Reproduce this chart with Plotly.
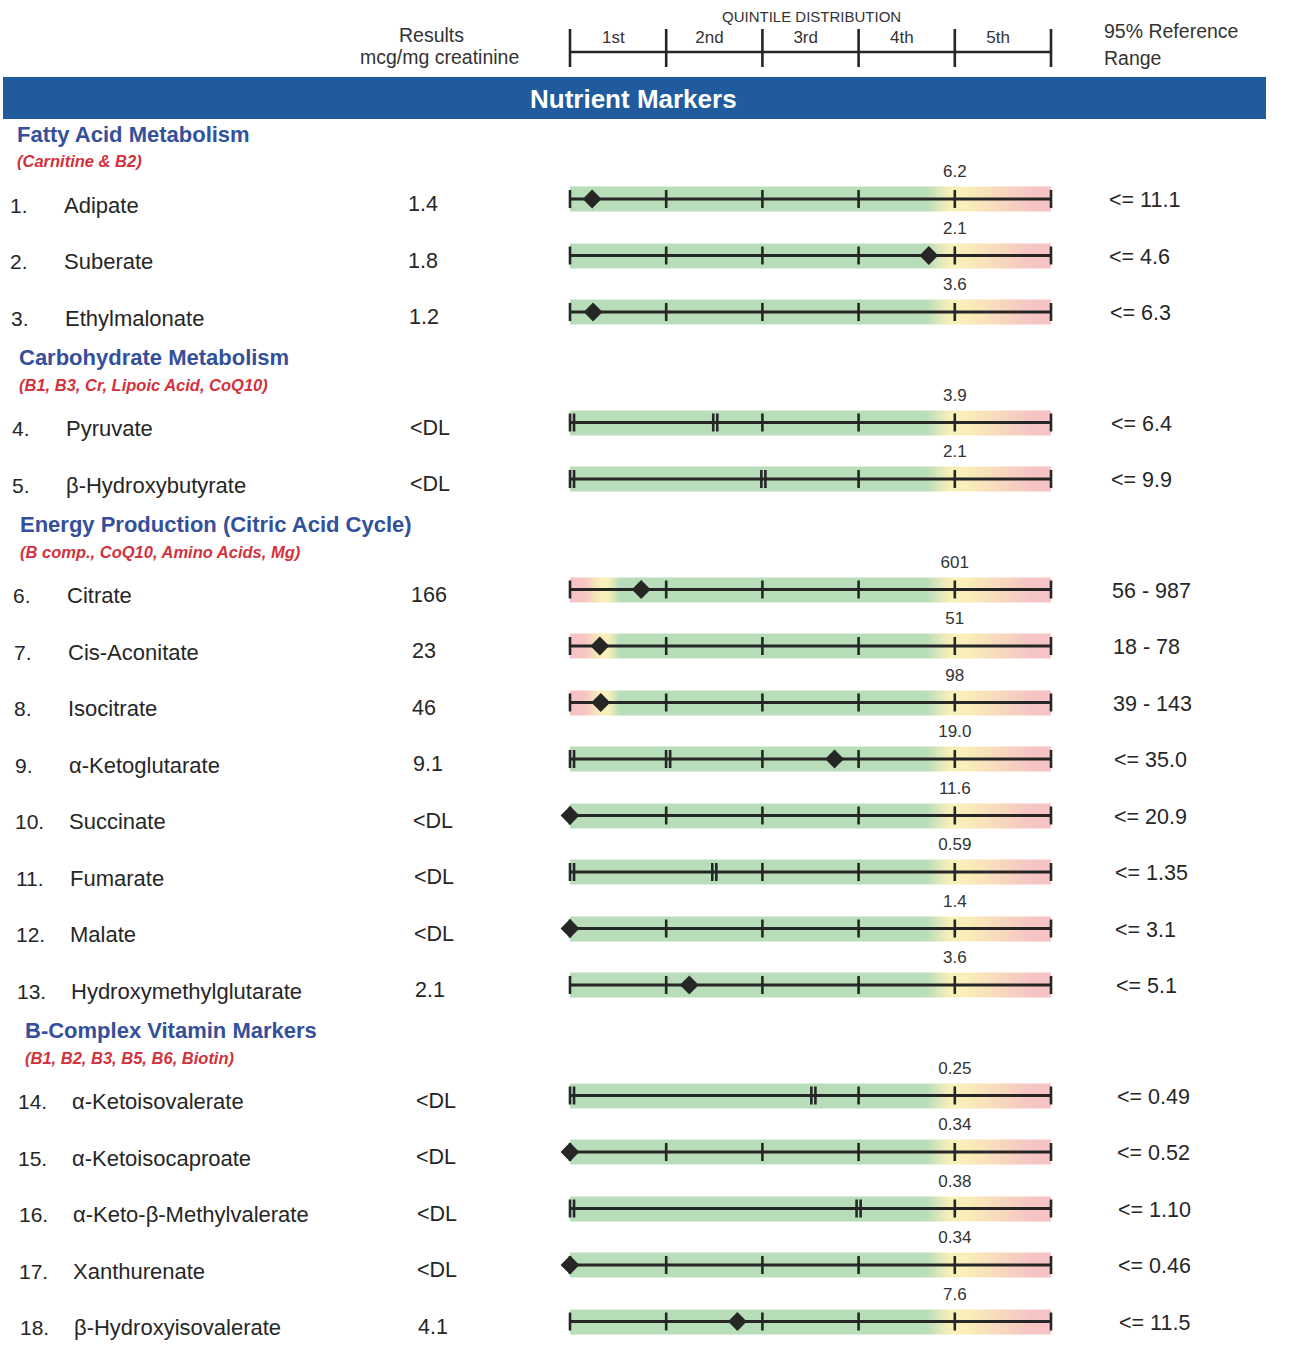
import numpy as np
import plotly.graph_objects as go

# ---------------- data ----------------
names = ["Adipate", "Suberate", "Ethylmalonate", "Pyruvate", "β-Hydroxybutyrate",
         "Citrate", "Cis-Aconitate", "Isocitrate", "α-Ketoglutarate", "Succinate",
         "Fumarate", "Malate", "Hydroxymethylglutarate", "α-Ketoisovalerate",
         "α-Ketoisocaproate", "α-Keto-β-Methylvalerate", "Xanthurenate",
         "β-Hydroxyisovalerate"]
results = ["1.4", "1.8", "1.2", "<DL", "<DL", "166", "23", "46", "9.1", "<DL",
           "<DL", "<DL", "2.1", "<DL", "<DL", "<DL", "<DL", "4.1"]
# result position on the quintile scale (0 = bottom, 5 = top)
result_quintile = [0.23, 3.73, 0.24, None, None, 0.74, 0.31, 0.32, 2.75, 0.0,
                   None, 0.0, 1.24, None, 0.0, None, 0.0, 1.74]
# detection-limit position on the quintile scale
dl_quintile = [None, None, None, 1.51, 2.01, None, None, None, 1.02, None,
               1.50, None, None, 2.53, None, 3.0, None, None]
q4_labels = ["6.2", "2.1", "3.6", "3.9", "2.1", "601", "51", "98", "19.0", "11.6",
             "0.59", "1.4", "3.6", "0.25", "0.34", "0.38", "0.34", "7.6"]
ref_ranges = ["<= 11.1", "<= 4.6", "<= 6.3", "<= 6.4", "<= 9.9", "56 - 987",
              "18 - 78", "39 - 143", "<= 35.0", "<= 20.9", "<= 1.35", "<= 3.1",
              "<= 5.1", "<= 0.49", "<= 0.52", "<= 1.10", "<= 0.46", "<= 11.5"]
section_titles = ["Fatty Acid Metabolism", "Carbohydrate Metabolism",
                  "Energy Production (Citric Acid Cycle)", "B-Complex Vitamin Markers"]
section_subtitles = ["(Carnitine & B2)", "(B1, B3, Cr, Lipoic Acid, CoQ10)",
                     "(B comp., CoQ10, Amino Acids, Mg)", "(B1, B2, B3, B5, B6, Biotin)"]
section_sizes = [3, 2, 8, 5]
quintile_labels = ["1st", "2nd", "3rd", "4th", "5th"]

# ---------------- layout helpers ----------------
W, H = 1298, 1360
X0_PX, UNIT = 570.0, 96.2          # pixel of quintile 0, pixels per quintile
SKEW = 0.0085                      # scan skew for text columns
FONT = "Liberation Sans, Arial, sans-serif"
DARK = "#262626"

def px(xp):
    return xp / W

row_y, row_sec, sec_first = [], [], []
k = 0
for s, n in enumerate(section_sizes):
    for j in range(n):
        y = 199 + k * 56.5 + s * 54.0
        if j == 0:
            sec_first.append(y)
        row_y.append(y)
        row_sec.append(s)
        k += 1

def tfunc(x, two_sided):
    # colour parameter: 0 green, 0.5 yellow, 1 pink
    t = np.interp(x, [0, 3.7, 3.95, 4.1, 4.8, 5], [0, 0, 0.5, 0.5, 1, 1])
    if two_sided:
        tl = np.interp(x, [0, 0.15, 0.32, 0.4, 0.52, 5], [1, 1, 0.5, 0.5, 0, 0])
        t = np.maximum(t, tl)
    return t

fig = go.Figure()

# ---- coloured bands (one heatmap, gaps as NaN) ----
xe = np.linspace(0, 5, 241)
xc = (xe[:-1] + xe[1:]) / 2
yedges, zrows = [], []
half = 12.5
for i, y in enumerate(row_y):
    two = " - " in ref_ranges[i]
    if i > 0:
        zrows.append([np.nan] * len(xc))
    yedges += [y - half, y + half]
    zrows.append(list(tfunc(xc, two)))
fig.add_trace(go.Heatmap(
    x=xe, y=yedges, z=zrows, zmin=0, zmax=1, showscale=False, hoverinfo="skip",
    colorscale=[[0, "#b8ddb9"], [0.5, "#f9efb8"], [1, "#f6c4c4"]]))

# ---- axis lines and ticks ----
lx, ly, tx, ty = [], [], [], []
for i, y in enumerate(row_y):
    lx += [0, 5, None]
    ly += [y, y, None]
    dl = dl_quintile[i]
    for q in range(6):
        if dl is not None and 0 < q <= dl + 0.15:
            continue
        if q == 0 and dl is not None:
            for off in (0.0, 0.042):
                tx += [off, off, None]
                ty += [y - 9, y + 9, None]
            continue
        tx += [q, q, None]
        ty += [y - 9, y + 9, None]
    if dl is not None and dl > 0.2:
        for off in (-0.021, 0.021):
            tx += [dl + off, dl + off, None]
            ty += [y - 9, y + 9, None]
fig.add_trace(go.Scatter(x=lx, y=ly, mode="lines", line=dict(color=DARK, width=3),
                         hoverinfo="skip", showlegend=False))
fig.add_trace(go.Scatter(x=tx, y=ty, mode="lines", line=dict(color=DARK, width=2.6),
                         hoverinfo="skip", showlegend=False))

# ---- result diamonds ----
mx = [v for v in result_quintile if v is not None]
my = [row_y[i] for i, v in enumerate(result_quintile) if v is not None]
fig.add_trace(go.Scatter(x=mx, y=my, mode="markers",
                         marker=dict(symbol="diamond", size=14.5, color=DARK),
                         hoverinfo="skip", showlegend=False))

# ---- 4th quintile boundary labels ----
fig.add_trace(go.Scatter(x=[4] * len(row_y), y=[y - 26 for y in row_y], mode="text",
                         text=q4_labels, textfont=dict(family=FONT, size=17, color="#333333"),
                         hoverinfo="skip", showlegend=False))

# ---- header quintile scale ----
hx, hy = [0, 5, None], [52, 52, None]
for q in range(6):
    hx += [q, q, None]
    hy += [29, 67, None]
fig.add_trace(go.Scatter(x=hx, y=hy, mode="lines", line=dict(color=DARK, width=2.6),
                         hoverinfo="skip", showlegend=False))
fig.add_trace(go.Scatter(x=[q + 0.45 for q in range(5)], y=[39] * 5, mode="text",
                         text=quintile_labels,
                         textfont=dict(family=FONT, size=17, color="#333333"),
                         hoverinfo="skip", showlegend=False))

ann = []
def A(x, y, text, size, color=DARK, anchor="left", bold=False, italic=False):
    t = text
    if bold:
        t = "<b>" + t + "</b>"
    if italic:
        t = "<i>" + t + "</i>"
    ann.append(dict(x=x, y=y, xref="paper", yref="y", text=t, showarrow=False,
                    xanchor=anchor, yanchor="middle",
                    font=dict(family=FONT, size=size, color=color)))

A(px(811), 16, "QUINTILE DISTRIBUTION", 15, "#333333", "center")
A(px(431), 35, "Results", 19.5, "#333333", "center")
A(px(439), 57, "mcg/mg creatinine", 19.5, "#333333", "center")
A(px(1102), 31, "95% Reference", 19.5, "#333333")
A(px(1102), 58, "Range", 19.5, "#333333")

for s in range(len(section_titles)):
    yb = sec_first[s]
    xs = 15 + SKEW * (yb - 199)
    A(px(xs), yb - 65, section_titles[s], 22, "#34509a", bold=True)
    A(px(xs), yb - 38, section_subtitles[s], 16.5, "#d2323c", bold=True, italic=True)

for i, y in enumerate(row_y):
    sk = SKEW * (y - 199)
    A(px(8 + sk), y + 6, f"{i + 1}.", 21)
    A(px(62 + sk), y + 6, names[i], 22)
    A(px(406 + sk), y + 5, results[i], 21.5)
    A(px(1107 + sk), y + 1, ref_ranges[i], 21.5)

A(px(633), 99, "Nutrient Markers", 26, "white", "center", bold=True)

fig.update_layout(
    width=W, height=H, margin=dict(l=0, r=0, t=0, b=0),
    paper_bgcolor="white", plot_bgcolor="white", showlegend=False,
    xaxis=dict(range=[-X0_PX / UNIT, (W - X0_PX) / UNIT], visible=False, fixedrange=True),
    yaxis=dict(range=[H, 0], visible=False, fixedrange=True),
    shapes=[dict(type="rect", xref="paper", yref="y", x0=px(3), x1=px(1266), y0=77, y1=119,
                 fillcolor="#1f5b9d", line=dict(width=0), layer="below")],
    annotations=ann,
)

fig.write_html("out.html", config={"displayModeBar": False},
               post_script="document.body.style.margin='0';")
